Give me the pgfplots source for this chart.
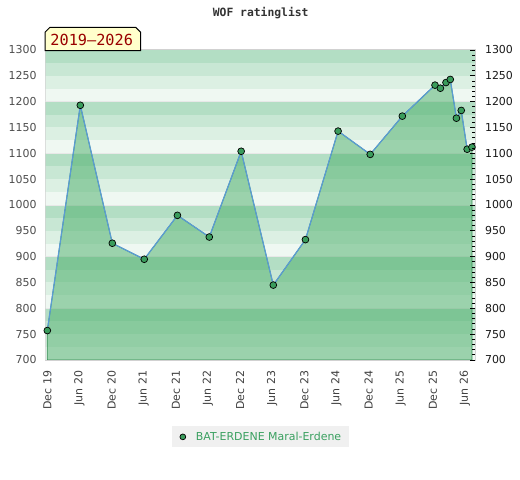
\documentclass[border=0pt]{standalone}
\usepackage{fontspec}
\setmainfont{DejaVu Sans}
\newfontfamily\monof{DejaVu Sans Mono}
\usepackage{pgfplots}
\usepackage{pgfplotstable}
\pgfplotsset{compat=1.18}
\definecolor{bandA}{HTML}{B3DEC4}
\definecolor{bandB}{HTML}{C8E7D4}
\definecolor{bandC}{HTML}{DCF0E3}
\definecolor{bandD}{HTML}{EFF8F2}
\definecolor{fillg}{HTML}{49AE68}
\definecolor{edgeg}{HTML}{2E8B4E}
\definecolor{markg}{HTML}{3A9C5C}
\definecolor{lineb}{HTML}{5B9BD5}
\definecolor{legtxt}{HTML}{3AA060}
\definecolor{boxy}{HTML}{FFFFCC}
\definecolor{boxr}{HTML}{990000}
\definecolor{titc}{HTML}{333333}

\pgfplotstableread{
m r
0 757
6.16 1193
12.14 926
18.1 895
24.3 980
30.25 938
36.2 1104
42.2 845
48.2 933
54.3 1143
60.3 1098
66.3 1172
72.4 1232
73.4 1226
74.45 1237
75.25 1243
76.4 1168
77.3 1183
78.4 1108
79.3 1112
}\ratings

\newcommand\bandset[5]{%
  \fill[bandD] (axis cs:-2,#1) rectangle (axis cs:82,#2);
  \fill[bandC] (axis cs:-2,#2) rectangle (axis cs:82,#3);
  \fill[bandB] (axis cs:-2,#3) rectangle (axis cs:82,#4);
  \fill[bandA] (axis cs:-2,#4) rectangle (axis cs:82,#5);
  \draw[black!9, line width=0.8bp] (axis cs:-2,#1) -- (axis cs:82,#1);
}

\begin{document}
\begin{tikzpicture}[x=1bp,y=1bp]
\useasboundingbox (0,0) rectangle (520,480);
\begin{axis}[
  at={(45.5bp,120bp)}, anchor=south west,
  scale only axis, width=429.5bp, height=310bp,
  xmin=-0.34, xmax=79.87, ymin=700, ymax=1300,
  axis line style={draw=black!18, line width=1.2bp},
  xtick={0,6,12,18,24,30,36,42,48,54,60,66,72,78},
  xticklabels={Dec 19,Jun 20,Dec 20,Jun 21,Dec 21,Jun 22,Dec 22,Jun 23,Dec 23,Jun 24,Dec 24,Jun 25,Dec 25,Jun 26},
  xticklabel style={rotate=90, anchor=east, font=\fontsize{11}{13}\selectfont, text=black!75},
  xticklabel shift=7.3bp,
  ytick={700,750,...,1300},
  yticklabel style={font=\fontsize{11}{13}\selectfont, text=black!70},
  yticklabel shift=5.5bp,
  /pgf/number format/assume math mode=true,
  /pgf/number format/1000 sep={},
  tick style={draw=none},
  legend style={at={(0.5,-0.248)}, anchor=center, fill=black!6, draw=none,
    font=\fontsize{11}{13}\selectfont, text=legtxt, inner xsep=5.5bp, inner ysep=3.5bp},
]
\bandset{700}{725}{750}{775}{800}
\bandset{800}{825}{850}{875}{900}
\bandset{900}{925}{950}{975}{1000}
\bandset{1000}{1025}{1050}{1075}{1100}
\bandset{1100}{1125}{1150}{1175}{1200}
\bandset{1200}{1225}{1250}{1275}{1300}
\addplot[fill=fillg, fill opacity=0.5, draw=edgeg, line width=0.8bp, forget plot] table[x=m,y=r] {\ratings} \closedcycle;
\addplot[lineb, line width=1.2bp, mark=*, mark size=3.4bp,
  mark options={fill=markg, draw=black, line width=0.7bp},
  legend image code/.code={\path[draw=none, fill=none] (-5.5bp,-3bp) rectangle (11bp,3bp);\draw[mark=*, mark size=2.9bp, mark options={fill=markg, draw=black, line width=0.7bp}] plot coordinates {(0bp,0bp)};}]
  table[x=m,y=r] {\ratings};
\addlegendentry{BAT-ERDENE Maral-Erdene}
\end{axis}
\begin{axis}[
  at={(45.5bp,120bp)}, anchor=south west,
  scale only axis, width=429.5bp, height=310bp,
  xmin=-0.34, xmax=79.87, ymin=700, ymax=1300,
  axis x line=none, axis y line*=right,
  axis line style={draw=none},
  ytick={700,750,...,1300},
  minor ytick={700,710,...,1300},
  tick align=inside,
  major tick length=5bp, minor tick length=3bp,
  tick style={draw=black, line width=0.8bp},
  yticklabel style={font=\fontsize{11}{13}\selectfont, text=black!90},
  yticklabel shift=6.5bp,
  /pgf/number format/assume math mode=true,
  /pgf/number format/1000 sep={},
]
\end{axis}
\draw[black, line width=1bp, fill=boxy] (45,429.3) -- (45,447.7) -- (50,452.7) -- (135.7,452.7) -- (140.7,447.7) -- (140.7,429.3) -- cycle;
\node[anchor=base, text=boxr, font=\monof\fontsize{15.3}{17}\selectfont, inner sep=0] at (91.7,434.3) {2019–2026};
\node[anchor=base, text=titc, font=\monof\bfseries\fontsize{11.4}{13}\selectfont, inner sep=0] at (260.7,463.3) {WOF ratinglist};
\end{tikzpicture}
\end{document}
